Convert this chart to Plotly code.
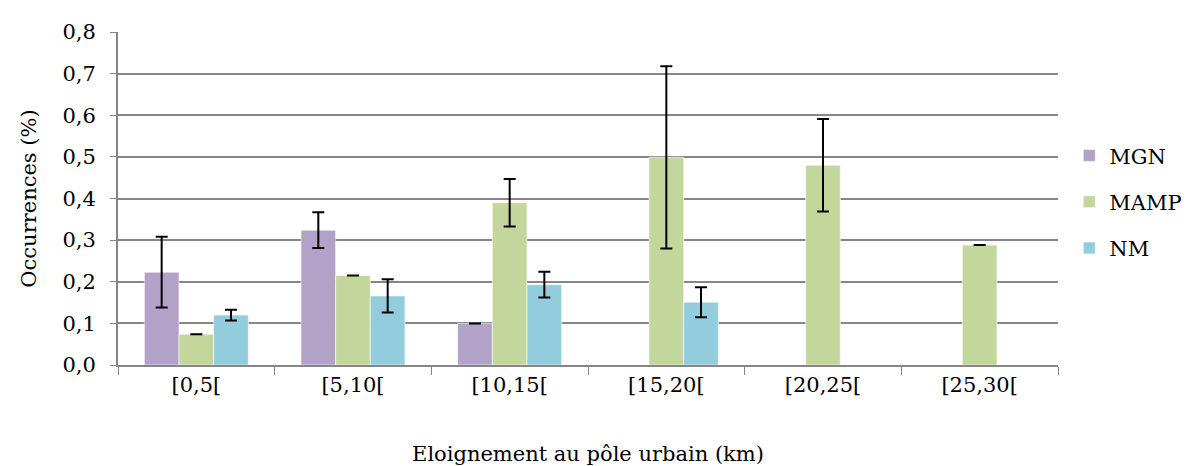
import plotly.graph_objects as go

categories = ["[0,5[", "[5,10[", "[10,15[", "[15,20[", "[20,25[", "[25,30["]
mgn = [0.223, 0.324, 0.100, None, None, None]
mgn_err = [0.085, 0.043, 0.0, None, None, None]
mamp = [0.074, 0.215, 0.390, 0.499, 0.480, 0.288]
mamp_err = [0.0, 0.0, 0.057, 0.219, 0.111, 0.0]
nm = [0.120, 0.166, 0.193, 0.151, None, None]
nm_err = [0.013, 0.040, 0.031, 0.036, None, None]
y_ticks = [0, 0.1, 0.2, 0.3, 0.4, 0.5, 0.6, 0.7, 0.8]
y_ticklabels = ["0,0", "0,1", "0,2", "0,3", "0,4", "0,5", "0,6", "0,7", "0,8"]

FONT = "DejaVu Serif"
series = [("MGN", mgn, mgn_err, "#B3A2C7"),
          ("MAMP", mamp, mamp_err, "#C3D69B"),
          ("NM", nm, nm_err, "#93CDDD")]

fig = go.Figure()
for i, (name, vals, errs, col) in enumerate(series):
    fig.add_trace(go.Bar(
        x=categories, y=vals, name=name, legendgroup=name,
        marker=dict(color=col, line=dict(color="rgba(255,255,255,0.6)", width=1)),
        error_y=dict(type="data", array=errs, visible=True, color="black",
                     thickness=2, width=6),
    ))

fig.update_layout(
    width=1192, height=466,
    barmode="group", bargap=0.336, bargroupgap=0,
    plot_bgcolor="white", paper_bgcolor="white",
    margin=dict(l=110, r=142, t=16, b=108),
    font=dict(family=FONT, size=20, color="black"),
    showlegend=True,
    legend=dict(x=1.012, y=0.69, xanchor="left", yanchor="top",
                font=dict(size=21, family=FONT), tracegroupgap=16,
                itemwidth=30),
    xaxis=dict(type="category", tickson="boundaries", ticks="outside", ticklen=8,
               tickcolor="#868686", tickwidth=1, showline=True, linecolor="#868686",
               linewidth=2, showgrid=False,
               title=dict(text="Eloignement au pôle urbain (km)", standoff=50,
                          font=dict(size=21, family=FONT)),
               tickfont=dict(size=21, family=FONT)),
    yaxis=dict(range=[0, 0.8], tickvals=y_ticks, ticktext=y_ticklabels,
               ticks="outside", ticklen=6, tickcolor="#868686",
               ticklabelstandoff=10,
               showline=True, linecolor="#868686", linewidth=2,
               showgrid=True, gridcolor="#868686", gridwidth=2, zeroline=False,
               title=dict(text="Occurrences (%)", standoff=20,
                          font=dict(size=21, family=FONT)),
               tickfont=dict(size=21, family=FONT)),
)

fig.write_html("out.html")
